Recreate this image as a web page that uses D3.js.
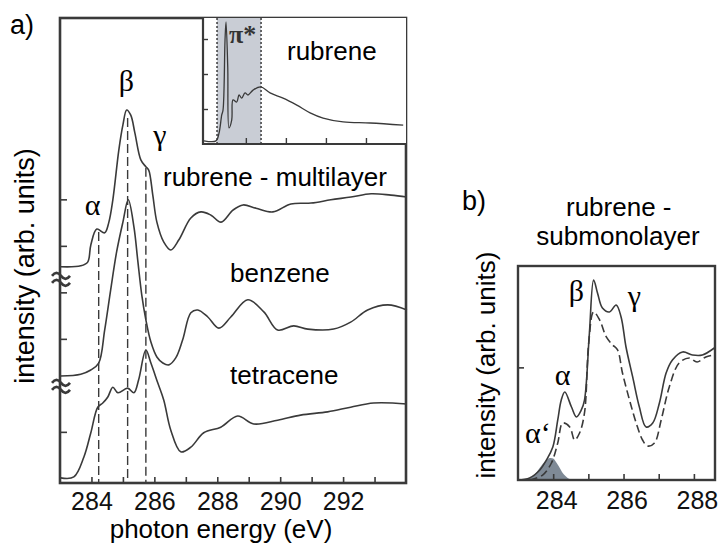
<!DOCTYPE html>
<html>
<head>
<meta charset="utf-8">
<script src="https://cdn.jsdelivr.net/npm/d3@7"></script>
<style>
  body { margin: 0; background: #fff; }
  svg { display: block; font-family: "Liberation Sans", Arial, sans-serif; }
</style>
</head>
<body>
<div id="chart"></div>
<script>
// ---- panel a data (photon energy eV, intensity offset units) ----
const rubreneML = [[283.02,3.55],[283.66,3.57],[283.88,3.65],[283.98,4.02],[284.17,4.36],[284.42,4.28],
  [284.55,4.5],[284.68,4.99],[284.87,6.06],[285.0,6.6],[285.12,6.92],[285.25,6.81],[285.38,6.43],
  [285.57,5.85],[285.73,5.7],[285.82,5.63],[285.95,5.09],[286.08,4.51],[286.3,4.08],[286.52,3.91],
  [286.78,4.13],[287.16,4.6],[287.48,4.73],[287.8,4.66],[288.12,4.51],[288.5,4.77],[288.82,4.88],
  [289.23,4.81],[289.77,4.73],[290.34,4.9],[290.98,4.92],[291.61,4.99],[292.25,5.05],[292.89,5.12],
  [293.52,5.09],[294.03,5.05]];

const benzene = [[283.02,1.2],[283.66,1.24],[283.98,1.33],[284.23,1.48],[284.42,2.19],[284.61,3.05],
  [284.8,3.87],[285.0,4.51],[285.17,4.99],[285.35,4.41],[285.47,3.7],[285.6,2.94],[285.73,2.41],
  [285.89,1.93],[286.08,1.61],[286.27,1.48],[286.46,1.44],[286.68,1.59],[286.9,1.98],[287.16,2.56],
  [287.38,2.62],[287.7,2.47],[288.05,2.23],[288.43,2.47],[288.97,2.84],[289.48,2.58],[289.92,2.19],
  [290.43,2.28],[290.88,2.21],[291.7,2.21],[292.24,2.36],[292.78,2.62],[293.42,2.73],[294.03,2.62]];

const tetracene = [[283.02,-0.99],[283.44,-0.97],[283.76,-0.54],[283.98,-0.02],[284.2,0.53],[284.36,0.62],
  [284.52,0.75],[284.68,0.96],[284.84,0.84],[285.15,0.94],[285.35,0.84],[285.5,1.12],[285.73,1.76],
  [285.89,1.48],[286.11,1.05],[286.3,0.68],[286.52,0.04],[286.84,-0.43],[287.16,-0.33],[287.57,-0.02],
  [288.11,0.1],[288.65,0.34],[289.16,0.17],[289.92,0.25],[290.65,0.36],[291.51,0.43],[292.24,0.53],
  [292.97,0.62],[294.03,0.6]];

const markerE = [284.23, 285.15, 285.73];     // alpha, beta, gamma
const markerTop = [4.3, 6.75, 5.68];
const xTicksA = [284, 285, 286, 287, 288, 289, 290, 291, 292, 293];
const xLabelsA = [284, 286, 288, 290, 292];
const yTicksA = [0, 2, 3, 4, 5];
const breaksA = [1.0, 3.3];

// ---- inset data (rubrene wide range) ----
const insetRubrene = [[279.55,0.09],[282.55,0.09],[283.3,0.31],[283.98,0.83],[284.3,0.97],[284.8,2.97],
  [285.05,3.49],[285.48,2.2],[285.8,0.46],[286.48,0.69],[286.8,1.26],[287.73,1.2],[288.3,1.4],
  [288.98,1.31],[289.8,1.46],[290.55,1.4],[291.8,1.54],[293.73,1.63],[296.05,1.46],[299.3,1.31],
  [302.73,1.11],[306.05,0.89],[309.3,0.74],[314.3,0.63],[321.05,0.6],[329.3,0.54]];
const insetShade = [282.8, 293.8];
const xTicksInset = [290, 300, 310, 320];
const yTicksInset = [1, 2, 3];

// ---- panel b data ----
const subSolid = [[283.0,0.0],[283.33,0.018],[283.62,0.089],[283.81,0.178],[283.99,0.293],[284.13,0.533],
  [284.23,0.71],[284.33,0.781],[284.52,0.648],[284.66,0.56],[284.8,0.622],[284.89,0.71],[285.03,1.305],
  [285.15,1.776],[285.26,1.661],[285.4,1.527],[285.6,1.492],[285.79,1.554],[285.93,1.448],[286.07,1.181],
  [286.26,0.915],[286.45,0.648],[286.64,0.471],[286.83,0.506],[287.02,0.684],[287.21,0.95],[287.39,1.066],
  [287.68,1.137],[287.96,1.11],[288.24,1.11],[288.58,1.172]];
const subDashed = [[283.33,0.0],[283.7,0.044],[283.95,0.151],[284.13,0.329],[284.27,0.506],[284.47,0.471],
  [284.61,0.355],[284.75,0.417],[284.89,0.595],[285.01,1.217],[285.15,1.492],[285.32,1.421],[285.51,1.27],
  [285.69,1.199],[285.83,1.155],[285.97,0.95],[286.17,0.71],[286.36,0.506],[286.54,0.355],[286.68,0.302],
  [286.88,0.329],[287.07,0.533],[287.3,0.826],[287.58,1.039],[287.87,1.083],[288.09,1.048],[288.34,1.092],
  [288.58,1.11]];
const alphaPrime = [[283.1,0],[283.3,0.01],[283.45,0.04],[283.6,0.1],[283.75,0.16],[283.9,0.195],
  [284.0,0.19],[284.1,0.15],[284.2,0.1],[284.3,0.05],[284.45,0.01],[284.55,0]];
const xTicksB = [284, 285, 286, 287, 288];
const xLabelsB = [284, 286, 288];
const yTicksB = [1];

const ink = "#3a3a3a";
const serif = "'Liberation Serif', 'DejaVu Serif', 'Times New Roman', serif";

const svg = d3.select("#chart")
  .append("svg")
  .attr("width", 722)
  .attr("height", 545);

// ================= PANEL A =================
const xA = d3.scaleLinear().domain([283, 294]).range([60, 406]);
const yA = d3.scaleLinear().domain([-1.1, 8.9]).range([483, 18]);

const lineA = d3.line()
  .x(d => xA(d[0]))
  .y(d => yA(d[1]))
  .curve(d3.curveCatmullRom.alpha(0.5));

// x axis ticks (inward)
svg.append("g")
  .attr("transform", `translate(0,${yA.range()[0]})`)
  .call(d3.axisBottom(xA)
    .tickValues(xTicksA)
    .tickSizeInner(-6)
    .tickSizeOuter(0)
    .tickPadding(9)
    .tickFormat(d => xLabelsA.includes(d) ? d : ""))
  .call(g => g.select(".domain").remove())
  .call(g => g.selectAll("line").attr("stroke", ink).attr("stroke-width", 1.6))
  .call(g => g.selectAll("text").attr("fill", "#111").style("font-size", "25px")
    .style("font-family", "Liberation Sans, Arial, sans-serif"));

// y axis ticks (inward, no labels)
svg.append("g")
  .attr("transform", `translate(${xA.range()[0]},0)`)
  .call(d3.axisLeft(yA).tickValues(yTicksA).tickSizeInner(-7).tickSizeOuter(0).tickFormat(""))
  .call(g => g.select(".domain").remove())
  .call(g => g.selectAll("line").attr("stroke", ink).attr("stroke-width", 1.6));

// dashed peak markers
svg.selectAll(".marker")
  .data(markerE)
  .enter()
  .append("line")
  .attr("x1", d => xA(d))
  .attr("x2", d => xA(d))
  .attr("y1", (d, i) => yA(markerTop[i]))
  .attr("y2", yA.range()[0])
  .attr("stroke", ink)
  .attr("stroke-width", 1.4)
  .attr("stroke-dasharray", "9 4");

// spectra
[rubreneML, benzene, tetracene].forEach(s => {
  svg.append("path")
    .datum(s)
    .attr("d", lineA)
    .attr("fill", "none")
    .attr("stroke", ink)
    .attr("stroke-width", 1.6);
});

// frame
svg.append("rect")
  .attr("x", 60).attr("y", 18)
  .attr("width", 346).attr("height", 465)
  .attr("fill", "none")
  .attr("stroke", ink)
  .attr("stroke-width", 2.6);

// axis breaks (two little waves across the axis)
const brk = svg.selectAll(".brk")
  .data(breaksA)
  .enter()
  .append("g")
  .attr("transform", d => `translate(61,${yA(d)})`);

[-3.5, 3.5].forEach(dy => {
  brk.append("path")
    .attr("d", `M-9,${dy + 1} q4.5,-6 9,0 t9,0`)
    .attr("fill", "none")
    .attr("stroke", ink)
    .attr("stroke-width", 2.6);
});

// ---- inset ----
const xI = d3.scaleLinear().domain([279.3, 330]).range([203, 406]);
const yI = d3.scaleLinear().domain([0, 3.6]).range([144, 18]);

svg.append("rect")
  .attr("x", 203).attr("y", 18).attr("width", 203).attr("height", 126)
  .attr("fill", "#fff");

svg.append("rect")
  .attr("x", xI(insetShade[0])).attr("y", 18)
  .attr("width", xI(insetShade[1]) - xI(insetShade[0]))
  .attr("height", 126)
  .attr("fill", "#c9cdd5");

svg.selectAll(".shadeEdge")
  .data(insetShade)
  .enter()
  .append("line")
  .attr("x1", d => xI(d)).attr("x2", d => xI(d))
  .attr("y1", 18).attr("y2", 144)
  .attr("stroke", "#222")
  .attr("stroke-width", 1.3)
  .attr("stroke-dasharray", "2 2");

svg.append("g")
  .attr("transform", "translate(0,144)")
  .call(d3.axisBottom(xI).tickValues(xTicksInset).tickSizeInner(-6).tickSizeOuter(0).tickFormat(""))
  .call(g => g.select(".domain").remove())
  .call(g => g.selectAll("line").attr("stroke", ink).attr("stroke-width", 1.4));

svg.append("g")
  .attr("transform", "translate(203,0)")
  .call(d3.axisLeft(yI).tickValues(yTicksInset).tickSizeInner(-5).tickSizeOuter(0).tickFormat(""))
  .call(g => g.select(".domain").remove())
  .call(g => g.selectAll("line").attr("stroke", ink).attr("stroke-width", 1.4));

svg.append("path")
  .datum(insetRubrene)
  .attr("d", d3.line().x(d => xI(d[0])).y(d => yI(d[1])).curve(d3.curveCatmullRom.alpha(0.5)))
  .attr("fill", "none")
  .attr("stroke", ink)
  .attr("stroke-width", 1.3);

svg.append("path")
  .attr("d", "M203,18V144H406")
  .attr("fill", "none")
  .attr("stroke", ink)
  .attr("stroke-width", 2.2);

svg.append("text")
  .attr("x", 229).attr("y", 43)
  .style("font-family", serif)
  .style("font-size", "26px")
  .style("font-weight", "bold")
  .attr("fill", "#333")
  .text("π*");

svg.append("text")
  .attr("x", 287).attr("y", 60)
  .style("font-size", "26px")
  .text("rubrene");

// ---- panel a labels ----
svg.append("text").attr("x", 10).attr("y", 34).style("font-size", "27px").text("a)");

svg.append("text").attr("x", 163).attr("y", 186).style("font-size", "26px").text("rubrene - multilayer");
svg.append("text").attr("x", 230).attr("y", 282).style("font-size", "26px").text("benzene");
svg.append("text").attr("x", 230).attr("y", 384).style("font-size", "26px").text("tetracene");

const greekA = [["β", 126.5, 91], ["α", 92.5, 215], ["γ", 160, 145]];
svg.selectAll(".gA")
  .data(greekA)
  .enter()
  .append("text")
  .attr("x", d => d[1]).attr("y", d => d[2])
  .attr("text-anchor", "middle")
  .style("font-family", serif)
  .style("font-size", "30px")
  .text(d => d[0]);

svg.append("text")
  .attr("x", 221).attr("y", 538)
  .attr("text-anchor", "middle")
  .style("font-size", "26px")
  .text("photon energy (eV)");

svg.append("text")
  .attr("transform", "translate(34,266) rotate(-90)")
  .attr("text-anchor", "middle")
  .style("font-size", "27px")
  .text("intensity (arb. units)");

// ================= PANEL B =================
const xB = d3.scaleLinear().domain([283, 288.6]).range([518, 715]);
const yB = d3.scaleLinear().domain([0, 1.9]).range([480, 266]);

const lineB = d3.line()
  .x(d => xB(d[0]))
  .y(d => yB(d[1]))
  .curve(d3.curveCatmullRom.alpha(0.5));

svg.append("path")
  .datum(alphaPrime)
  .attr("d", d3.area().x(d => xB(d[0])).y0(yB(0)).y1(d => yB(d[1])).curve(d3.curveCatmullRom.alpha(0.5)))
  .attr("fill", "#7f8a96");

svg.append("g")
  .attr("transform", `translate(0,${yB.range()[0]})`)
  .call(d3.axisBottom(xB)
    .tickValues(xTicksB)
    .tickSizeInner(-6)
    .tickSizeOuter(0)
    .tickPadding(11)
    .tickFormat(d => xLabelsB.includes(d) ? d : ""))
  .call(g => g.select(".domain").remove())
  .call(g => g.selectAll("line").attr("stroke", ink).attr("stroke-width", 1.6))
  .call(g => g.selectAll("text").attr("fill", "#111").attr("dx", 3).style("font-size", "25px")
    .style("font-family", "Liberation Sans, Arial, sans-serif"));

svg.append("g")
  .attr("transform", `translate(${xB.range()[0]},0)`)
  .call(d3.axisLeft(yB).tickValues(yTicksB).tickSizeInner(-6).tickSizeOuter(0).tickFormat(""))
  .call(g => g.select(".domain").remove())
  .call(g => g.selectAll("line").attr("stroke", ink).attr("stroke-width", 1.6));

svg.append("path")
  .datum(subDashed)
  .attr("d", lineB)
  .attr("fill", "none")
  .attr("stroke", ink)
  .attr("stroke-width", 1.6)
  .attr("stroke-dasharray", "8 4");

svg.append("path")
  .datum(subSolid)
  .attr("d", lineB)
  .attr("fill", "none")
  .attr("stroke", ink)
  .attr("stroke-width", 1.6);

svg.append("rect")
  .attr("x", 518).attr("y", 266)
  .attr("width", 197).attr("height", 214)
  .attr("fill", "none")
  .attr("stroke", ink)
  .attr("stroke-width", 2.4);

svg.append("text").attr("x", 462).attr("y", 210).style("font-size", "27px").text("b)");
svg.append("text").attr("x", 566).attr("y", 216).style("font-size", "26px").text("rubrene -");
svg.append("text").attr("x", 618).attr("y", 245).attr("text-anchor", "middle")
  .style("font-size", "26px").text("submonolayer");

svg.append("text")
  .attr("transform", "translate(495,365) rotate(-90)")
  .attr("text-anchor", "middle")
  .style("font-size", "26px")
  .text("intensity (arb. units)");

const greekB = [["β", 576.5, 301, "middle"], ["γ", 634.5, 306, "middle"], ["α", 562.5, 385, "middle"], ["α‘", 525, 443, "start"]];
svg.selectAll(".gB")
  .data(greekB)
  .enter()
  .append("text")
  .attr("x", d => d[1]).attr("y", d => d[2])
  .attr("text-anchor", d => d[3])
  .style("font-family", serif)
  .style("font-size", "30px")
  .text(d => d[0]);
</script>
</body>
</html>
